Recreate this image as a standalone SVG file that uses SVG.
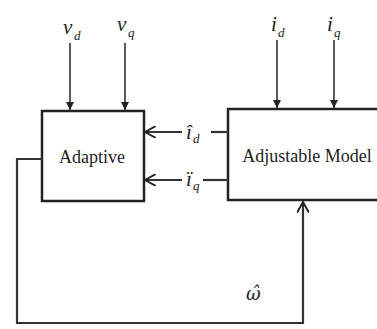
<svg xmlns="http://www.w3.org/2000/svg" width="377" height="329" viewBox="0 0 377 329">
<defs>
<style>
.box{fill:#fff;stroke:#222;stroke-width:2.5}
.ln{fill:none;stroke:#333;stroke-width:1.6}
.fb{fill:none;stroke:#333;stroke-width:2.2}
.lbl{font-family:"Liberation Serif",serif;font-size:18px;fill:#222}
.m{font-family:"Liberation Serif",serif;font-style:italic;font-size:21px;fill:#222}
.s{font-family:"Liberation Serif",serif;font-style:italic;font-size:13px;fill:#222}
.w{font-family:"DejaVu Serif",serif;font-style:italic;font-size:18px;fill:#222}
</style>
<marker id="tri" viewBox="0 0 10 10" refX="10" refY="5" markerWidth="8" markerHeight="11" markerUnits="userSpaceOnUse" orient="auto"><path d="M0,0 L10,5 L0,10 z" fill="#222"/></marker>
<marker id="open" viewBox="0 0 10 10" refX="9" refY="5" markerWidth="12" markerHeight="12" markerUnits="userSpaceOnUse" orient="auto"><path d="M0,0 L9,5 L0,10" fill="none" stroke="#222" stroke-width="1.6"/></marker>
</defs>
<g id="adaptive">
<rect class="box" x="42" y="111" width="102" height="90"/>
<text class="lbl" x="92" y="163" text-anchor="middle">Adaptive</text>
</g>
<g id="adjustable-model">
<rect class="box" x="228" y="109" width="152" height="91"/>
<text class="lbl" x="307" y="162" text-anchor="middle">Adjustable Model</text>
</g>
<g id="labels">
<text class="m" x="63" y="34">v</text><text class="s" x="74" y="40">d</text>
<text class="m" x="117" y="31">v</text><text class="s" x="128" y="37">q</text>
<text class="m" x="271" y="31">i</text><text class="s" x="278" y="37">d</text>
<text class="m" x="327" y="31">i</text><text class="s" x="334" y="37">q</text>
<text class="m" x="186" y="139">î</text><text class="s" x="193" y="143">d</text>
<text class="m" x="186" y="186">ï</text><text class="s" x="193" y="190">q</text>
<text class="w" x="246" y="300">ω̂</text>
</g>
<g id="connectors">
<line class="ln" x1="70" y1="43" x2="70" y2="110" marker-end="url(#tri)"/>
<line class="ln" x1="125" y1="43" x2="125" y2="110" marker-end="url(#tri)"/>
<line class="ln" x1="277" y1="40" x2="277" y2="108" marker-end="url(#tri)"/>
<line class="ln" x1="334" y1="40" x2="334" y2="108" marker-end="url(#tri)"/>
<line class="fb" x1="182" y1="132" x2="145" y2="132" marker-end="url(#open)"/>
<line class="fb" x1="182" y1="180" x2="145" y2="180" marker-end="url(#open)"/>
<line class="fb" x1="211" y1="132" x2="228" y2="132"/>
<line class="fb" x1="203" y1="180" x2="228" y2="180"/>
<polyline class="fb" points="42,159 17,159 17,323 303,323 303,202" marker-end="url(#open)"/>
</g>
</svg>
